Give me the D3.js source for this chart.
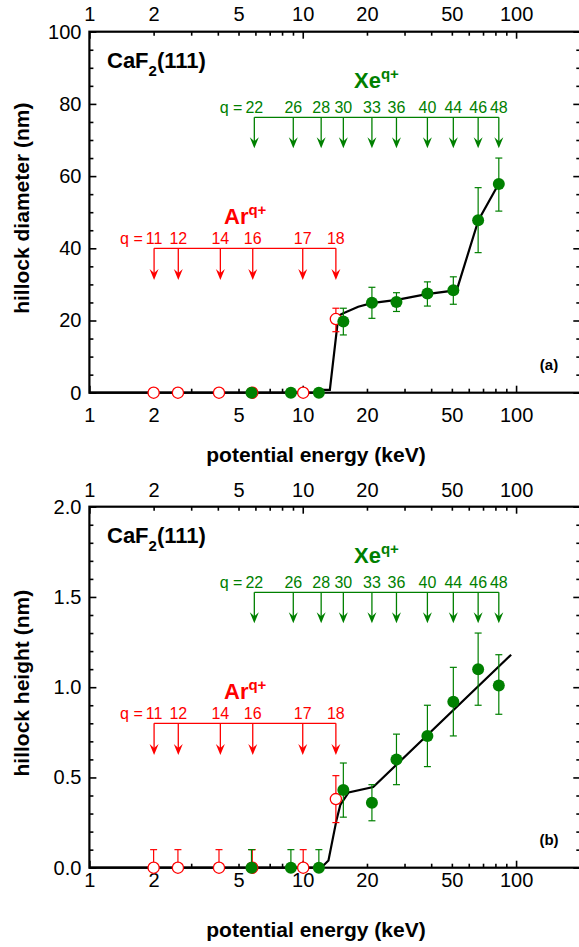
<!DOCTYPE html>
<html>
<head>
<meta charset="utf-8">
<script src="https://cdn.jsdelivr.net/npm/d3@7"></script>
<style>
  body { margin: 0; background: #fff; }
  text { font-family: Arial, "Liberation Sans", sans-serif; }
</style>
</head>
<body>
<svg width="579" height="947"></svg>
<script>
// ion potential energies (keV) where the arrows sit
let arArrowE = [2.01, 2.61, 4.11, 5.83, 10.0, 14.3];
let arCharge = [11, 12, 14, 16, 17, 18];
let xeArrowE = [5.93, 9.03, 12.2, 15.5, 21.1, 27.5, 38.4, 50.8, 66.4, 83.0];
let xeCharge = [22, 26, 28, 30, 33, 36, 40, 44, 46, 48];

// measured points
let arE = [2.0, 2.6, 4.05, 5.8, 10.05, 14.3];
let xeE = [5.75, 8.8, 11.9, 15.5, 21.1, 27.5, 38.4, 50.8, 66.4, 83.0];

// (a) hillock diameter (nm)
let arDiam   = [0, 0, 0, 0, 0, 20.4];
let arDiamLo = [null, null, null, null, null, 16.9];
let arDiamHi = [null, null, null, null, null, 23.4];
let xeDiam   = [0, 0, 0, 19.7, 24.9, 25.1, 27.5, 28.4, 47.8, 57.8];
let xeDiamLo = [null, null, null, 16.0, 20.6, 22.5, 24.0, 24.5, 38.8, 50.3];
let xeDiamHi = [null, null, null, 23.4, 29.2, 27.7, 30.7, 32.1, 56.8, 65.0];
let diamFitE = [1, 12.0, 12.3, 13.4, 14.7, 15.5, 18.2, 21.0, 27.6, 38.1, 52.7, 66.6, 83.2];
let diamFitY = [0, 0, 0.8, 0.8, 21.3, 22.0, 23.8, 24.8, 25.7, 27.3, 28.4, 47.8, 58.0];

// (b) hillock height (nm)
let arHeight   = [0, 0, 0, 0, 0, 0.38];
let arHeightLo = [0, 0, 0, 0, 0, 0.25];
let arHeightHi = [0.1, 0.1, 0.1, 0.1, 0.1, 0.51];
let xeHeight   = [0, 0, 0, 0.43, 0.36, 0.60, 0.73, 0.92, 1.10, 1.01];
let xeHeightLo = [0, 0, 0, 0.28, 0.26, 0.46, 0.56, 0.73, 0.90, 0.85];
let xeHeightHi = [0.1, 0.1, 0.1, 0.58, 0.46, 0.74, 0.90, 1.11, 1.30, 1.18];
let heightFitE = [1, 12.2, 13.2, 14.4, 15.0, 16.4, 21.4, 94.8];
let heightFitY = [0, 0, 0.04, 0.265, 0.348, 0.417, 0.447, 1.18];

let xTickLabels = [1, 2, 5, 10, 20, 50, 100];

let red = '#ff0000', green = '#008000';
let svg = d3.select('svg');

let x = d3.scaleLog().domain([1, 200]).range([89.4, 580.3]);
let xMajor = [1, 10, 100];
let xMinor = d3.range(2, 10).concat(d3.range(20, 100, 10));

let panels = [
  {
    top: 31.7, bottom: 392.7, yMax: 100, major: 20, minor: 5, fmt: d3.format('d'),
    ylabel: 'hillock diameter (nm)', tag: '(a)',
    ar: arDiam, arLo: arDiamLo, arHi: arDiamHi,
    xe: xeDiam, xeLo: xeDiamLo, xeHi: xeDiamHi,
    fitE: diamFitE, fitY: diamFitY,
    padBottom: 15, padTop: 11
  },
  {
    top: 506.7, bottom: 867.7, yMax: 2, major: 0.5, minor: 0.1, fmt: d3.format('.1f'),
    ylabel: 'hillock height (nm)', tag: '(b)',
    ar: arHeight, arLo: arHeightLo, arHi: arHeightHi,
    xe: xeHeight, xeLo: xeHeightLo, xeHi: xeHeightHi,
    fitE: heightFitE, fitY: heightFitY,
    padBottom: 5, padTop: 10
  }
];

let styleAxis = function(g, fontSize) {
  g.select('.domain').remove();
  g.selectAll('.tick line').attr('stroke', '#000').attr('stroke-width', 1.6);
  g.selectAll('.tick text').attr('fill', '#000').attr('font-size', fontSize)
    .attr('font-family', 'Arial, "Liberation Sans", sans-serif');
}

panels.forEach(function(p) {
  let y = d3.scaleLinear().domain([0, p.yMax]).range([p.bottom, p.top]);
  let g = svg.append('g');
  let off = p.top - 31.7;  // annotation offset between panels

  // x axes, bottom and top
  let labelFmt = function(d) { return xTickLabels.indexOf(d) >= 0 ? d : ''; };
  [['bottom', p.bottom, p.padBottom], ['top', p.top, p.padTop]].forEach(function(a) {
    let mk = a[0] === 'bottom' ? d3.axisBottom : d3.axisTop;
    g.append('g').attr('transform', 'translate(0,' + a[1] + ')')
      .call(mk(x).tickValues(xMinor.concat(xMajor)).tickFormat(labelFmt)
        .tickSize(-4).tickPadding(a[2]))
      .call(styleAxis, 20)
      .selectAll('.tick line').filter(function(d) { return xMajor.indexOf(d) >= 0; })
      .attr('y2', a[0] === 'bottom' ? -7 : 7);
  });

  // y axes, left with labels, right ticks only
  let yMinorVals = d3.range(0, p.yMax + p.minor / 2, p.minor);
  let isMajor = function(d) { return Math.abs(d / p.major - Math.round(d / p.major)) < 1e-6; };
  g.append('g').attr('transform', 'translate(' + x(1) + ',0)')
    .call(d3.axisLeft(y).tickValues(yMinorVals)
      .tickFormat(function(d) { return isMajor(d) ? p.fmt(d) : ''; })
      .tickSize(-4).tickPadding(8))
    .call(styleAxis, 20)
    .selectAll('.tick line').filter(isMajor).attr('x2', 7);
  g.append('g').attr('transform', 'translate(' + x(200) + ',0)')
    .call(d3.axisRight(y).tickValues(yMinorVals).tickFormat('').tickSize(-4))
    .call(styleAxis, 20)
    .selectAll('.tick line').filter(isMajor).attr('x2', -7);

  g.append('rect')
    .attr('x', x(1)).attr('y', p.top)
    .attr('width', x(200) - x(1)).attr('height', p.bottom - p.top)
    .attr('fill', 'none').attr('stroke', '#000').attr('stroke-width', 2.2);

  // axis titles
  g.append('text')
    .attr('x', 316).attr('y', p.bottom + 69)
    .attr('text-anchor', 'middle').attr('font-size', 21).attr('font-weight', 'bold')
    .text('potential energy (keV)');
  g.append('text')
    .attr('transform', 'translate(29,' + ((p.top + p.bottom) / 2 - 4) + ') rotate(-90)')
    .attr('text-anchor', 'middle').attr('font-size', 21).attr('font-weight', 'bold')
    .text(p.ylabel);

  // CaF2(111) and panel tag
  let ca = g.append('text').attr('x', 107).attr('y', 68.3 + off)
    .attr('font-size', 22).attr('font-weight', 'bold');
  ca.append('tspan').text('CaF');
  ca.append('tspan').attr('dy', 8).attr('font-size', 15).text('2');
  ca.append('tspan').attr('dy', -8).text('(111)');
  g.append('text').attr('x', 549).attr('y', p.bottom - 23)
    .attr('text-anchor', 'middle').attr('font-size', 15).attr('font-weight', 'bold')
    .text(p.tag);

  // charge state arrows
  let drawArrows = function(energies, charges, color, barY, tipY, title, titleX) {
    let a = g.append('g');
    a.append('line')
      .attr('x1', x(energies[0])).attr('x2', x(energies[energies.length - 1]))
      .attr('y1', barY).attr('y2', barY)
      .attr('stroke', color).attr('stroke-width', 1.3);
    a.selectAll('line.shaft').data(energies).enter().append('line')
      .attr('class', 'shaft')
      .attr('x1', function(d) { return x(d); }).attr('x2', function(d) { return x(d); })
      .attr('y1', barY).attr('y2', tipY - 6)
      .attr('stroke', color).attr('stroke-width', 1.3);
    a.selectAll('path.head').data(energies).enter().append('path')
      .attr('class', 'head')
      .attr('d', 'M0,0L-4.5,-11L0,-7L4.5,-11Z')
      .attr('transform', function(d) { return 'translate(' + x(d) + ',' + tipY + ')'; })
      .attr('fill', color);
    let lbl = a.selectAll('text.q').data(charges).enter().append('text')
      .attr('class', 'q')
      .attr('x', function(d, i) { return x(energies[i]); })
      .attr('y', barY - 4)
      .attr('text-anchor', 'middle').attr('font-size', 16).attr('fill', color)
      .text(function(d) { return d; });
    let firstW = lbl.node().getComputedTextLength();
    a.append('text')
      .attr('x', x(energies[0]) - firstW / 2 - 3).attr('y', barY - 4)
      .attr('text-anchor', 'end').attr('font-size', 16).attr('fill', color)
      .text('q =');
    let t = a.append('text').attr('x', titleX).attr('y', barY - (color === red ? 24 : 29))
      .attr('font-size', 22).attr('font-weight', 'bold').attr('fill', color);
    t.append('tspan').text(title);
    t.append('tspan').attr('dy', -9).attr('font-size', 15).text('q+');
  };
  drawArrows(arArrowE, arCharge, red, 248.3 + off, 280 + off, 'Ar', 224);
  drawArrows(xeArrowE, xeCharge, green, 117.3 + off, 148.3 + off, 'Xe', 354);

  // fit curve
  let fit = d3.zip(p.fitE, p.fitY);
  g.append('path').datum(fit)
    .attr('d', d3.line().x(function(d) { return x(d[0]); }).y(function(d) { return y(d[1]); }))
    .attr('fill', 'none').attr('stroke', '#000').attr('stroke-width', 2.2);

  // points with error bars
  let drawSeries = function(energies, vals, lo, hi, color, open) {
    let s = g.append('g');
    energies.forEach(function(e, i) {
      if (hi[i] === null) return;
      let cx = x(e);
      s.append('line').attr('x1', cx).attr('x2', cx)
        .attr('y1', y(lo[i])).attr('y2', y(hi[i]))
        .attr('stroke', color).attr('stroke-width', 1.2);
      [lo[i], hi[i]].forEach(function(v) {
        if (v === 0) return;
        s.append('line').attr('x1', cx - 3.5).attr('x2', cx + 3.5)
          .attr('y1', y(v)).attr('y2', y(v))
          .attr('stroke', color).attr('stroke-width', 1.2);
      });
    });
    s.selectAll('circle').data(vals).enter().append('circle')
      .attr('cx', function(d, i) { return x(energies[i]); })
      .attr('cy', function(d) { return y(d); })
      .attr('r', open ? 5.6 : 6)
      .attr('fill', open ? '#fff' : color)
      .attr('stroke', color).attr('stroke-width', open ? 1.3 : 0);
  };
  drawSeries(arE, p.ar, p.arLo, p.arHi, red, true);
  drawSeries(xeE, p.xe, p.xeLo, p.xeHi, green, false);
});
</script>
</body>
</html>
